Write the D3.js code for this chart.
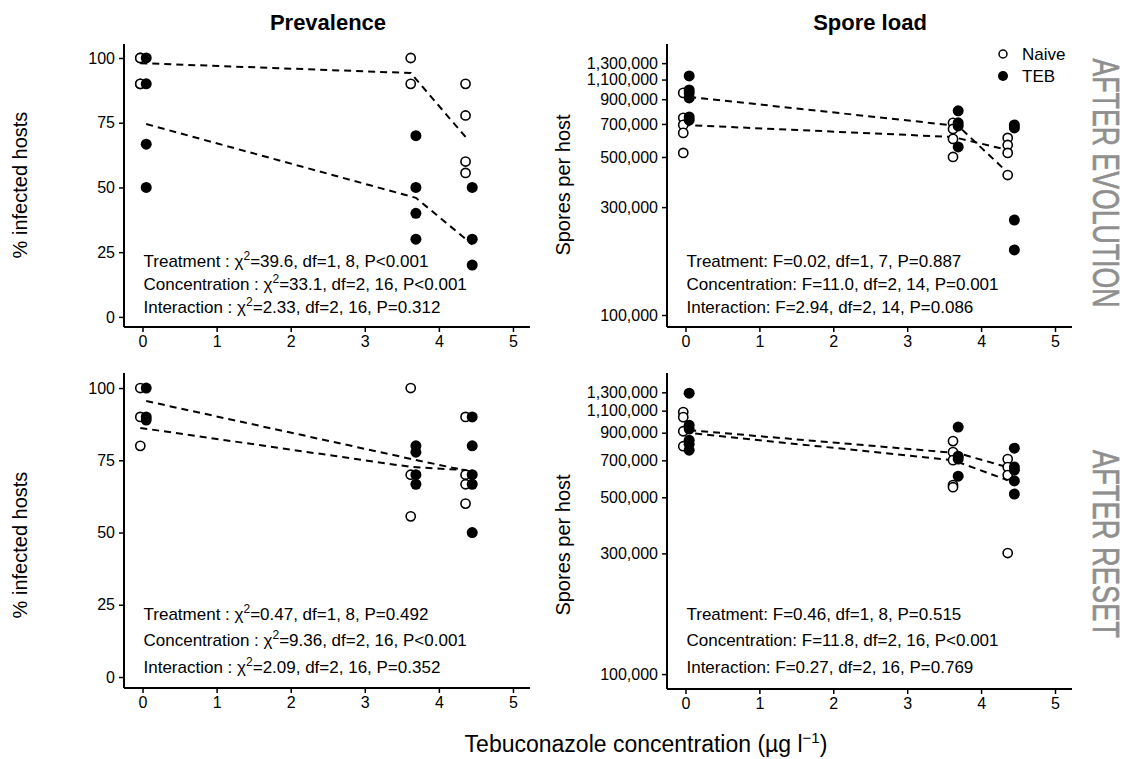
<!DOCTYPE html>
<html>
<head>
<meta charset="utf-8">
<script src="https://cdn.jsdelivr.net/npm/d3@7"></script>
<style>
  body { margin: 0; background: #fff; }
  svg { font-family: "Liberation Sans", Arial, sans-serif; }
</style>
</head>
<body>
<svg width="1126" height="759"></svg>
<script>
// x positions of the three concentrations, dodged per group
const concNaive = [-0.03, 3.62, 4.36];
const concTEB = [0.05, 3.69, 4.45];
const xTicks = [0, 1, 2, 3, 4, 5];
const prevTicks = [0, 25, 50, 75, 100];
const sporeTicks = [100000, 300000, 500000, 700000, 900000, 1100000, 1300000];

// prevalence, after evolution
const prevEvoNaive = [[100, 100, 90, 90], [100, 90], [90, 77.8, 60, 55.6]];
const prevEvoTEB = [[100, 90, 66.7, 50], [70, 50, 40, 30], [50, 30, 20]];
const prevEvoNaiveLine = [98, 94.2, 69.5];
const prevEvoTEBLine = [74.5, 46, 28];

// spore load, after evolution
const sporeEvoNaive = [[960e3, 745e3, 693e3, 639e3, 521e3], [708e3, 665e3, 601e3, 500e3], [607e3, 565e3, 521e3, 416e3]];
const sporeEvoTEB = [[1142e3, 990e3, 960e3, 912e3, 752e3, 728e3], [800e3, 708e3, 686e3, 554e3], [693e3, 672e3, 263e3, 194e3]];
const sporeEvoNaiveLine = [693e3, 613e3, 537e3];
const sporeEvoTEBLine = [922e3, 686e3, 400e3];

// prevalence, after reset
const prevResNaive = [[100, 90, 80], [100, 70, 55.6], [90, 70, 66.7, 60]];
const prevResTEB = [[100, 90, 88.9], [80, 77.8, 70, 66.7], [90, 80, 70, 66.7, 50]];
const prevResNaiveLine = [86.2, 72.7, 71.6];
const prevResTEBLine = [95.5, 75.1, 71];

// spore load, after reset
const sporeResNaive = [[1086e3, 1037e3, 912e3, 796e3], [834e3, 754e3, 701e3, 559e3, 548e3], [708e3, 658e3, 612e3, 301e3]];
const sporeResTEB = [[1290e3, 964e3, 930e3, 841e3, 811e3, 768e3], [947e3, 727e3, 708e3, 606e3], [782e3, 658e3, 640e3, 580e3, 515e3]];
const sporeResNaiveLine = [903e3, 701e3, 584e3];
const sporeResTEBLine = [921e3, 747e3, 646e3];

// statistics text
const statsPrevEvo = [["Treatment", "39.6, df=1, 8, P<0.001"], ["Concentration", "33.1, df=2, 16, P<0.001"], ["Interaction", "2.33, df=2, 16, P=0.312"]];
const statsSporeEvo = ["Treatment: F=0.02, df=1, 7, P=0.887", "Concentration: F=11.0, df=2, 14, P=0.001", "Interaction: F=2.94, df=2, 14, P=0.086"];
const statsPrevRes = [["Treatment", "0.47, df=1, 8, P=0.492"], ["Concentration", "9.36, df=2, 16, P<0.001"], ["Interaction", "2.09, df=2, 16, P=0.352"]];
const statsSporeRes = ["Treatment: F=0.46, df=1, 8, P=0.515", "Concentration: F=11.8, df=2, 16, P<0.001", "Interaction: F=0.27, df=2, 16, P=0.769"];

const svg = d3.select("svg");

const panels = [
  { x0: 124, x1: 530, y0: 44, y1: 327, log: false, dom: [-3.9, 105.4], naive: prevEvoNaive, teb: prevEvoTEB, nLine: prevEvoNaiveLine, tLine: prevEvoTEBLine, chi: statsPrevEvo, textY: [267, 290, 313] },
  { x0: 667, x1: 1072, y0: 44, y1: 327, log: true, dom: [88500, 1580000], naive: sporeEvoNaive, teb: sporeEvoTEB, nLine: sporeEvoNaiveLine, tLine: sporeEvoTEBLine, f: statsSporeEvo, textY: [267, 290, 313] },
  { x0: 124, x1: 530, y0: 373, y1: 688, log: false, dom: [-3.8, 105.2], naive: prevResNaive, teb: prevResTEB, nLine: prevResNaiveLine, tLine: prevResTEBLine, chi: statsPrevRes, textY: [620, 646, 673] },
  { x0: 667, x1: 1072, y0: 373, y1: 689, log: true, dom: [87300, 1550000], naive: sporeResNaive, teb: sporeResTEB, nLine: sporeResNaiveLine, tLine: sporeResTEBLine, f: statsSporeRes, textY: [620, 646, 673] }
];

panels.forEach(p => {
  const x = d3.scaleLinear().domain([-0.25, 5.23]).range([p.x0, p.x1]);
  const y = (p.log ? d3.scaleLog() : d3.scaleLinear()).domain(p.dom).range([p.y1, p.y0]);
  const g = svg.append("g");

  // axes
  const xAxis = d3.axisBottom(x).tickValues(xTicks).tickSize(5).tickPadding(4).tickFormat(d3.format("d"));
  const yAxis = d3.axisLeft(y).tickValues(p.log ? sporeTicks : prevTicks).tickSize(5).tickPadding(4)
    .tickFormat(p.log ? d3.format(",") : d3.format("d"));

  const gx = g.append("g").attr("transform", `translate(0,${p.y1})`).call(xAxis);
  const gy = g.append("g").attr("transform", `translate(${p.x0},0)`).call(yAxis);
  [gx, gy].forEach(a => {
    a.select(".domain").attr("stroke", "#000").attr("stroke-width", 2);
    a.selectAll(".tick line").attr("stroke", "#000").attr("stroke-width", 1.5);
    a.selectAll(".tick text").attr("fill", "#000").style("font-size", "16px");
  });
  gx.select(".domain").attr("d", `M${p.x0},0H${p.x1}`);
  gy.select(".domain").attr("d", `M0,${p.y0}V${p.y1}`);

  // dashed mean lines
  const line = d3.line().x(d => x(d[0])).y(d => y(d[1]));
  [[concNaive, p.nLine], [concTEB, p.tLine]].forEach(([cx, vals]) => {
    g.append("path")
      .datum(vals.map((v, i) => [cx[i], v]))
      .attr("d", line)
      .attr("fill", "none")
      .attr("stroke", "#000")
      .attr("stroke-width", 2)
      .attr("stroke-dasharray", "7,5");
  });

  // points
  const pts = [];
  p.naive.forEach((arr, i) => arr.forEach(v => pts.push({ c: concNaive[i], v: v, teb: false })));
  p.teb.forEach((arr, i) => arr.forEach(v => pts.push({ c: concTEB[i], v: v, teb: true })));
  g.selectAll("circle.pt")
    .data(pts)
    .join("circle")
    .attr("class", "pt")
    .attr("cx", d => x(d.c))
    .attr("cy", d => y(d.v))
    .attr("r", d => d.teb ? 5.5 : 4.6)
    .attr("fill", d => d.teb ? "#000" : "#fff")
    .attr("stroke", "#000")
    .attr("stroke-width", d => d.teb ? 0 : 1.6);

  // statistics
  const tx = x(0) + 1;
  if (p.chi) {
    p.chi.forEach((s, i) => {
      const t = g.append("text").attr("x", tx).attr("y", p.textY[i]).style("font-size", "17px").attr("fill", "#000");
      t.append("tspan").text(s[0] + " : ");
      t.append("tspan").text("\u03C7");
      t.append("tspan").text("2").attr("dy", -7).style("font-size", "12px");
      t.append("tspan").text("=" + s[1]).attr("dy", 7);
    });
  } else {
    p.f.forEach((s, i) => {
      g.append("text").attr("x", tx).attr("y", p.textY[i]).style("font-size", "17px").attr("fill", "#000").text(s);
    });
  }
});

// column titles
svg.append("text").attr("x", 328).attr("y", 30).attr("text-anchor", "middle")
  .style("font-size", "22px").style("font-weight", "bold").text("Prevalence");
svg.append("text").attr("x", 870).attr("y", 30).attr("text-anchor", "middle")
  .style("font-size", "22px").style("font-weight", "bold").text("Spore load");

// y axis titles
const yTitles = [[27, 185, "% infected hosts"], [27, 545, "% infected hosts"], [570, 185, "Spores per host"], [570, 545, "Spores per host"]];
yTitles.forEach(([tx, ty, s]) => {
  svg.append("text").attr("transform", `translate(${tx},${ty}) rotate(-90)`)
    .attr("text-anchor", "middle").style("font-size", "20px").text(s);
});

// row labels
const rowLabels = [[1093, 183, "AFTER EVOLUTION", 249], [1093, 544, "AFTER RESET", 188]];
rowLabels.forEach(([tx, ty, s, len]) => {
  svg.append("text").attr("transform", `translate(${tx},${ty}) rotate(90)`)
    .attr("text-anchor", "middle").attr("fill", "#8f8f8f")
    .style("font-size", "36px")
    .attr("stroke", "#8f8f8f").attr("stroke-width", 0.6)
    .attr("textLength", len).attr("lengthAdjust", "spacingAndGlyphs")
    .text(s);
});

// x axis title
const xt = svg.append("text").attr("x", 646).attr("y", 752).attr("text-anchor", "middle").style("font-size", "23px");
xt.append("tspan").text("Tebuconazole concentration (\u00B5g l");
xt.append("tspan").text("\u22121").attr("dy", -9).style("font-size", "15px");
xt.append("tspan").text(")").attr("dy", 9);

// legend
const legend = [["Naive", false], ["TEB", true]];
legend.forEach(([s, teb], i) => {
  svg.append("circle").attr("cx", 1003).attr("cy", 54 + i * 22).attr("r", teb ? 5 : 4)
    .attr("fill", teb ? "#000" : "#fff").attr("stroke", "#000").attr("stroke-width", teb ? 0 : 1.5);
  svg.append("text").attr("x", 1022).attr("y", 54 + i * 22 + 6).style("font-size", "17px").text(s);
});
</script>
</body>
</html>
